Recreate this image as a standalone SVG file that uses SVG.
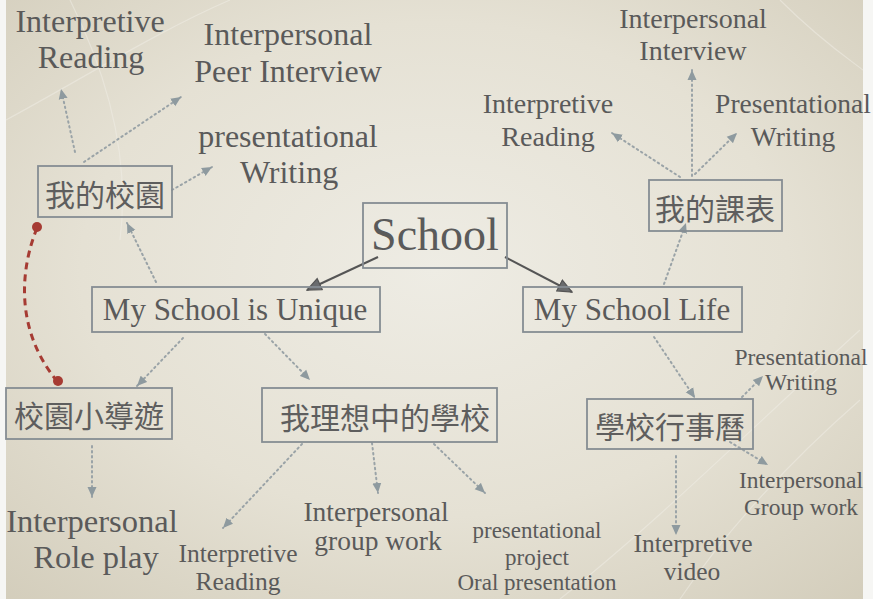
<svg xmlns="http://www.w3.org/2000/svg" width="873" height="599" viewBox="0 0 873 599">
<defs>
<radialGradient id="paper" cx="0.5" cy="0.45" r="0.75">
<stop offset="0" stop-color="#eeece4"/>
<stop offset="0.55" stop-color="#e5e1d4"/>
<stop offset="1" stop-color="#d3cdbb"/>
</radialGradient>
<marker id="dot" markerUnits="userSpaceOnUse" markerWidth="10" markerHeight="10" refX="10" refY="5" orient="auto">
<path d="M0,0.5 L10,5 L0,9.5 z" fill="#8e9a9f"/>
</marker>
<marker id="solid" markerUnits="userSpaceOnUse" markerWidth="16" markerHeight="14" refX="15" refY="7" orient="auto">
<path d="M1,1 L15,7 L1,13 z" fill="#6a6c6e" stroke="#555" stroke-width="1.2"/>
</marker>
</defs>
<style>
.lat{font-family:"Liberation Serif","Times New Roman",serif;fill:#5a5a5a;}
.cjk{font-family:"Noto Sans CJK TC","Noto Sans CJK SC",sans-serif;fill:#5e5e5e;font-size:30px;}
.box{fill:none;stroke:#868d93;stroke-width:1.8;}
.dl{fill:none;stroke:#9aa3a7;stroke-width:2;stroke-dasharray:1.5 3.5;stroke-linecap:round;marker-end:url(#dot);}
.sl{fill:none;stroke:#555;stroke-width:2;marker-end:url(#solid);}
.mid{text-anchor:middle;}
</style>
<rect x="0" y="0" width="873" height="599" fill="#f6f6f4"/>
<rect x="6" y="0" width="857" height="599" fill="url(#paper)"/>
<g fill="none" stroke="#f3f1ea" stroke-width="1.2" opacity="0.45">
<path d="M6,120 C80,80 160,30 230,0"/>
<path d="M70,0 C110,80 130,160 120,240"/>
<path d="M860,330 C760,420 660,520 560,599"/>
<path d="M860,400 C780,470 720,540 680,599"/>
<path d="M780,0 C820,40 850,60 863,70"/>
</g>

<g id="connectors">
<line class="sl" x1="378" y1="257" x2="307" y2="290"/>
<line class="sl" x1="505" y1="257" x2="572" y2="292"/>
<line class="dl" x1="75" y1="152" x2="61" y2="89"/>
<line class="dl" x1="84" y1="162" x2="181" y2="97"/>
<line class="dl" x1="172" y1="190" x2="212" y2="167"/>
<line class="dl" x1="156" y1="282" x2="127" y2="223"/>
<line class="dl" x1="183" y1="338" x2="137" y2="386"/>
<line class="dl" x1="265" y1="334" x2="310" y2="380"/>
<line class="dl" x1="92" y1="446" x2="92" y2="497"/>
<line class="dl" x1="302" y1="444" x2="223" y2="528"/>
<line class="dl" x1="372" y1="443" x2="378" y2="493"/>
<line class="dl" x1="434" y1="444" x2="485" y2="493"/>
<line class="dl" x1="664" y1="284" x2="686" y2="223"/>
<line class="dl" x1="680" y1="177" x2="612" y2="133"/>
<line class="dl" x1="692" y1="176" x2="692" y2="70"/>
<line class="dl" x1="695" y1="174" x2="737" y2="133"/>
<line class="dl" x1="654" y1="337" x2="695" y2="398"/>
<line class="dl" x1="742" y1="397" x2="763" y2="376"/>
<line class="dl" x1="730" y1="442" x2="768" y2="465"/>
<line class="dl" x1="676" y1="456" x2="676" y2="535"/>
<path d="M37,228 C20,270 15,330 57,381" fill="none" stroke="#a63b33" stroke-width="3" stroke-dasharray="7 5"/>
<circle cx="37" cy="227" r="5" fill="#a63b33"/>
<circle cx="58" cy="381" r="5" fill="#a63b33"/>
</g>

<g id="school">
<rect class="box" x="363" y="203" width="144" height="65"/>
<text class="lat mid" x="435" y="250" font-size="46">School</text>
</g>
<g id="unique">
<rect class="box" x="92" y="287" width="288" height="45"/>
<text class="lat mid" x="235" y="320" font-size="31">My School is Unique</text>
</g>
<g id="life">
<rect class="box" x="523" y="287" width="219" height="45"/>
<text class="lat mid" x="632" y="320" font-size="31">My School Life</text>
</g>
<g id="campus">
<rect class="box" x="38" y="166" width="134" height="51"/>
<text class="cjk mid" x="105" y="206">我的校園</text>
</g>
<g id="timetable">
<rect class="box" x="649" y="180" width="133" height="51"/>
<text class="cjk mid" x="715" y="220">我的課表</text>
</g>
<g id="tour">
<rect class="box" x="6" y="388" width="166" height="51"/>
<text class="cjk mid" x="89" y="427">校園小導遊</text>
</g>
<g id="ideal">
<rect class="box" x="262" y="388" width="235" height="54"/>
<text class="cjk mid" x="385" y="429">我理想中的學校</text>
</g>
<g id="calendar">
<rect class="box" x="587" y="399" width="166" height="50"/>
<text class="cjk mid" x="670" y="438">學校行事曆</text>
</g>

<g id="labels">
<text class="lat mid" font-size="32" x="90" y="32">Interpretive</text>
<text class="lat mid" font-size="32" x="91" y="68">Reading</text>
<text class="lat mid" font-size="32" x="288" y="45">Interpersonal</text>
<text class="lat mid" font-size="32" x="288" y="82">Peer Interview</text>
<text class="lat mid" font-size="32" x="288" y="147">presentational</text>
<text class="lat mid" font-size="32" x="289" y="183">Writing</text>
<text class="lat mid" font-size="28" x="693" y="28">Interpersonal</text>
<text class="lat mid" font-size="28" x="693" y="60">Interview</text>
<text class="lat mid" font-size="28" x="548" y="113">Interpretive</text>
<text class="lat mid" font-size="28" x="548" y="146">Reading</text>
<text class="lat mid" font-size="27.5" x="793" y="113">Presentational</text>
<text class="lat mid" font-size="27.5" x="793" y="146">Writing</text>
<text class="lat mid" font-size="23.5" x="801" y="365">Presentational</text>
<text class="lat mid" font-size="23.5" x="801" y="390">Writing</text>
<text class="lat mid" font-size="23.5" x="801" y="488">Interpersonal</text>
<text class="lat mid" font-size="23.5" x="801" y="515">Group work</text>
<text class="lat mid" font-size="25.5" x="693" y="552">Interpretive</text>
<text class="lat mid" font-size="25.5" x="692" y="580">video</text>
<text class="lat mid" font-size="23" x="537" y="538">presentational</text>
<text class="lat mid" font-size="23" x="537" y="565">project</text>
<text class="lat mid" font-size="23" x="537" y="590">Oral presentation</text>
<text class="lat mid" font-size="27.5" x="376" y="521">Interpersonal</text>
<text class="lat mid" font-size="27.5" x="378" y="550">group work</text>
<text class="lat mid" font-size="25.5" x="238" y="562">Interpretive</text>
<text class="lat mid" font-size="25.5" x="238" y="590">Reading</text>
<text class="lat mid" font-size="32.5" x="92" y="532">Interpersonal</text>
<text class="lat mid" font-size="32.5" x="96" y="568">Role play</text>
</g>
</svg>
